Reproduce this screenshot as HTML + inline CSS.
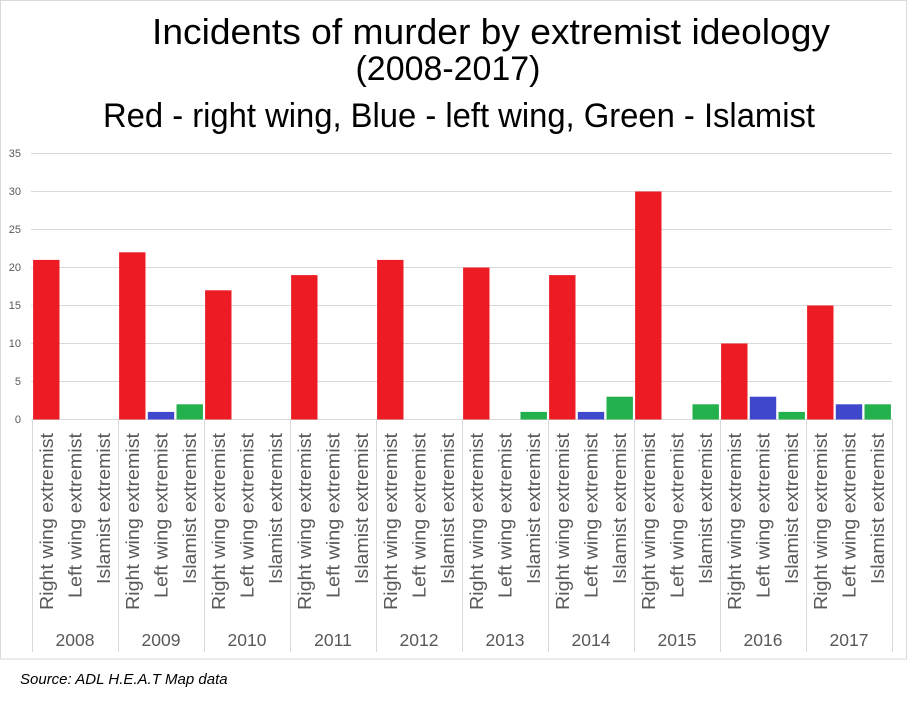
<!DOCTYPE html>
<html><head><meta charset="utf-8"><style>html,body{margin:0;padding:0;background:#fff}svg{display:block}</style></head><body>
<svg width="908" height="706" viewBox="0 0 908 706" xmlns="http://www.w3.org/2000/svg" font-family="Liberation Sans, sans-serif">
<rect x="0.5" y="0.5" width="906" height="658.5" fill="#fff" stroke="#d9d9d9"/>
<text x="491" y="44" font-size="36" text-anchor="middle" textLength="678" lengthAdjust="spacingAndGlyphs" fill="#000">Incidents of murder by extremist ideology</text>
<text x="448" y="80" font-size="34" text-anchor="middle" textLength="185" lengthAdjust="spacingAndGlyphs" fill="#000">(2008-2017)</text>
<text x="459" y="127" font-size="34" text-anchor="middle" textLength="712" lengthAdjust="spacingAndGlyphs" fill="#000">Red - right wing, Blue - left wing, Green - Islamist</text>
<g stroke="#d9d9d9" stroke-width="1">
<line x1="31" y1="153.5" x2="892" y2="153.5"/><line x1="31" y1="191.5" x2="892" y2="191.5"/><line x1="31" y1="229.5" x2="892" y2="229.5"/><line x1="31" y1="267.5" x2="892" y2="267.5"/><line x1="31" y1="305.5" x2="892" y2="305.5"/><line x1="31" y1="343.5" x2="892" y2="343.5"/><line x1="31" y1="381.5" x2="892" y2="381.5"/><line x1="31" y1="419.5" x2="892" y2="419.5"/>
</g>
<g font-size="11" fill="#595959" text-anchor="end">
<text x="21" y="157">35</text><text x="21" y="195">30</text><text x="21" y="233">25</text><text x="21" y="271">20</text><text x="21" y="309">15</text><text x="21" y="347">10</text><text x="21" y="385">5</text><text x="21" y="423">0</text>
</g>
<g>
<rect x="33.1" y="259.9" width="26.4" height="159.6" fill="#ED1C24"/>
<rect x="119.1" y="252.3" width="26.4" height="167.2" fill="#ED1C24"/>
<rect x="147.8" y="411.9" width="26.4" height="7.6" fill="#3F48CC"/>
<rect x="176.5" y="404.3" width="26.4" height="15.2" fill="#22B14C"/>
<rect x="205.1" y="290.3" width="26.4" height="129.2" fill="#ED1C24"/>
<rect x="291.1" y="275.1" width="26.4" height="144.4" fill="#ED1C24"/>
<rect x="377.1" y="259.9" width="26.4" height="159.6" fill="#ED1C24"/>
<rect x="463.1" y="267.5" width="26.4" height="152" fill="#ED1C24"/>
<rect x="520.5" y="411.9" width="26.4" height="7.6" fill="#22B14C"/>
<rect x="549.1" y="275.1" width="26.4" height="144.4" fill="#ED1C24"/>
<rect x="577.8" y="411.9" width="26.4" height="7.6" fill="#3F48CC"/>
<rect x="606.5" y="396.7" width="26.4" height="22.8" fill="#22B14C"/>
<rect x="635.1" y="191.5" width="26.4" height="228" fill="#ED1C24"/>
<rect x="692.5" y="404.3" width="26.4" height="15.2" fill="#22B14C"/>
<rect x="721.1" y="343.5" width="26.4" height="76" fill="#ED1C24"/>
<rect x="749.8" y="396.7" width="26.4" height="22.8" fill="#3F48CC"/>
<rect x="778.5" y="411.9" width="26.4" height="7.6" fill="#22B14C"/>
<rect x="807.1" y="305.5" width="26.4" height="114" fill="#ED1C24"/>
<rect x="835.8" y="404.3" width="26.4" height="15.2" fill="#3F48CC"/>
<rect x="864.5" y="404.3" width="26.4" height="15.2" fill="#22B14C"/>
</g>
<g stroke="#d9d9d9">
<line x1="32.5" y1="419" x2="32.5" y2="652"/><line x1="118.5" y1="419" x2="118.5" y2="652"/><line x1="204.5" y1="419" x2="204.5" y2="652"/><line x1="290.5" y1="419" x2="290.5" y2="652"/><line x1="376.5" y1="419" x2="376.5" y2="652"/><line x1="462.5" y1="419" x2="462.5" y2="652"/><line x1="548.5" y1="419" x2="548.5" y2="652"/><line x1="634.5" y1="419" x2="634.5" y2="652"/><line x1="720.5" y1="419" x2="720.5" y2="652"/><line x1="806.5" y1="419" x2="806.5" y2="652"/><line x1="892.5" y1="419" x2="892.5" y2="652"/>
</g>
<g font-size="18.5" fill="#595959">
<g transform="translate(32,0)"><text transform="translate(20.8,433) rotate(-90)" text-anchor="end" textLength="177" lengthAdjust="spacingAndGlyphs">Right wing extremist</text><text transform="translate(49.5,433) rotate(-90)" text-anchor="end" textLength="165" lengthAdjust="spacingAndGlyphs">Left wing extremist</text><text transform="translate(78.2,433) rotate(-90)" text-anchor="end" textLength="151" lengthAdjust="spacingAndGlyphs">Islamist extremist</text><text x="43" y="646" font-size="17.5" text-anchor="middle">2008</text></g>
<g transform="translate(118,0)"><text transform="translate(20.8,433) rotate(-90)" text-anchor="end" textLength="177" lengthAdjust="spacingAndGlyphs">Right wing extremist</text><text transform="translate(49.5,433) rotate(-90)" text-anchor="end" textLength="165" lengthAdjust="spacingAndGlyphs">Left wing extremist</text><text transform="translate(78.2,433) rotate(-90)" text-anchor="end" textLength="151" lengthAdjust="spacingAndGlyphs">Islamist extremist</text><text x="43" y="646" font-size="17.5" text-anchor="middle">2009</text></g>
<g transform="translate(204,0)"><text transform="translate(20.8,433) rotate(-90)" text-anchor="end" textLength="177" lengthAdjust="spacingAndGlyphs">Right wing extremist</text><text transform="translate(49.5,433) rotate(-90)" text-anchor="end" textLength="165" lengthAdjust="spacingAndGlyphs">Left wing extremist</text><text transform="translate(78.2,433) rotate(-90)" text-anchor="end" textLength="151" lengthAdjust="spacingAndGlyphs">Islamist extremist</text><text x="43" y="646" font-size="17.5" text-anchor="middle">2010</text></g>
<g transform="translate(290,0)"><text transform="translate(20.8,433) rotate(-90)" text-anchor="end" textLength="177" lengthAdjust="spacingAndGlyphs">Right wing extremist</text><text transform="translate(49.5,433) rotate(-90)" text-anchor="end" textLength="165" lengthAdjust="spacingAndGlyphs">Left wing extremist</text><text transform="translate(78.2,433) rotate(-90)" text-anchor="end" textLength="151" lengthAdjust="spacingAndGlyphs">Islamist extremist</text><text x="43" y="646" font-size="17.5" text-anchor="middle">2011</text></g>
<g transform="translate(376,0)"><text transform="translate(20.8,433) rotate(-90)" text-anchor="end" textLength="177" lengthAdjust="spacingAndGlyphs">Right wing extremist</text><text transform="translate(49.5,433) rotate(-90)" text-anchor="end" textLength="165" lengthAdjust="spacingAndGlyphs">Left wing extremist</text><text transform="translate(78.2,433) rotate(-90)" text-anchor="end" textLength="151" lengthAdjust="spacingAndGlyphs">Islamist extremist</text><text x="43" y="646" font-size="17.5" text-anchor="middle">2012</text></g>
<g transform="translate(462,0)"><text transform="translate(20.8,433) rotate(-90)" text-anchor="end" textLength="177" lengthAdjust="spacingAndGlyphs">Right wing extremist</text><text transform="translate(49.5,433) rotate(-90)" text-anchor="end" textLength="165" lengthAdjust="spacingAndGlyphs">Left wing extremist</text><text transform="translate(78.2,433) rotate(-90)" text-anchor="end" textLength="151" lengthAdjust="spacingAndGlyphs">Islamist extremist</text><text x="43" y="646" font-size="17.5" text-anchor="middle">2013</text></g>
<g transform="translate(548,0)"><text transform="translate(20.8,433) rotate(-90)" text-anchor="end" textLength="177" lengthAdjust="spacingAndGlyphs">Right wing extremist</text><text transform="translate(49.5,433) rotate(-90)" text-anchor="end" textLength="165" lengthAdjust="spacingAndGlyphs">Left wing extremist</text><text transform="translate(78.2,433) rotate(-90)" text-anchor="end" textLength="151" lengthAdjust="spacingAndGlyphs">Islamist extremist</text><text x="43" y="646" font-size="17.5" text-anchor="middle">2014</text></g>
<g transform="translate(634,0)"><text transform="translate(20.8,433) rotate(-90)" text-anchor="end" textLength="177" lengthAdjust="spacingAndGlyphs">Right wing extremist</text><text transform="translate(49.5,433) rotate(-90)" text-anchor="end" textLength="165" lengthAdjust="spacingAndGlyphs">Left wing extremist</text><text transform="translate(78.2,433) rotate(-90)" text-anchor="end" textLength="151" lengthAdjust="spacingAndGlyphs">Islamist extremist</text><text x="43" y="646" font-size="17.5" text-anchor="middle">2015</text></g>
<g transform="translate(720,0)"><text transform="translate(20.8,433) rotate(-90)" text-anchor="end" textLength="177" lengthAdjust="spacingAndGlyphs">Right wing extremist</text><text transform="translate(49.5,433) rotate(-90)" text-anchor="end" textLength="165" lengthAdjust="spacingAndGlyphs">Left wing extremist</text><text transform="translate(78.2,433) rotate(-90)" text-anchor="end" textLength="151" lengthAdjust="spacingAndGlyphs">Islamist extremist</text><text x="43" y="646" font-size="17.5" text-anchor="middle">2016</text></g>
<g transform="translate(806,0)"><text transform="translate(20.8,433) rotate(-90)" text-anchor="end" textLength="177" lengthAdjust="spacingAndGlyphs">Right wing extremist</text><text transform="translate(49.5,433) rotate(-90)" text-anchor="end" textLength="165" lengthAdjust="spacingAndGlyphs">Left wing extremist</text><text transform="translate(78.2,433) rotate(-90)" text-anchor="end" textLength="151" lengthAdjust="spacingAndGlyphs">Islamist extremist</text><text x="43" y="646" font-size="17.5" text-anchor="middle">2017</text></g>
</g>
<text x="20" y="684" font-size="15" font-style="italic" fill="#000">Source: ADL H.E.A.T Map data</text>
</svg>
</body></html>
